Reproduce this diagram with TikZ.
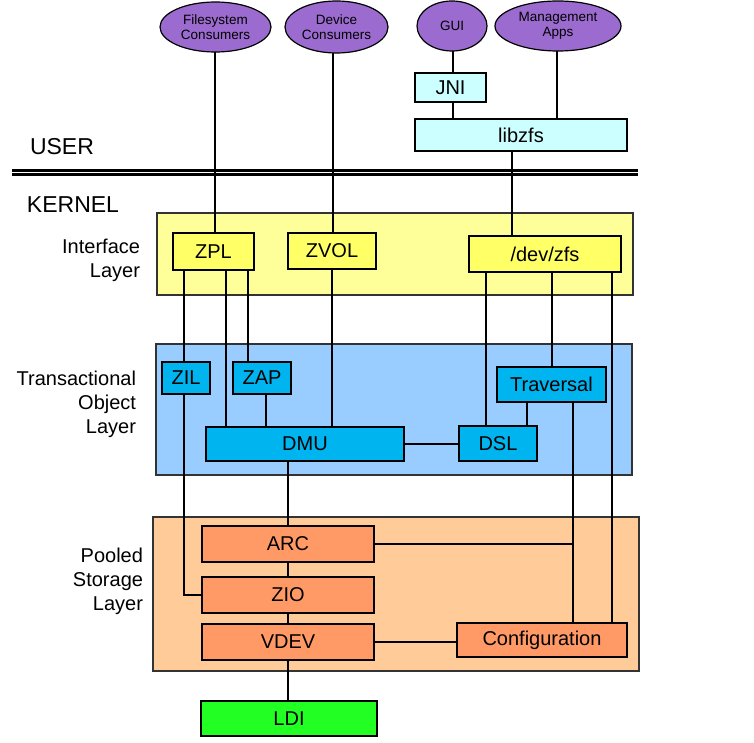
\documentclass[tikz,border=0pt]{standalone}
\usepackage{fontspec}
\setmainfont{Liberation Sans}
\usetikzlibrary{shapes.geometric}
\definecolor{purp}{HTML}{9B6BCF}
\definecolor{lcyan}{HTML}{CCFFFF}
\definecolor{ylay}{HTML}{FFFF99}
\definecolor{ybox}{HTML}{FFFF66}
\definecolor{blay}{HTML}{99CCFF}
\definecolor{bbox}{HTML}{00B4F0}
\definecolor{olay}{HTML}{FFCC99}
\definecolor{obox}{HTML}{FF9966}
\definecolor{gbox}{HTML}{22FF22}
\begin{document}
\begin{tikzpicture}[x=1pt,y=-1pt,
  every node/.style={inner sep=0pt,outer sep=0pt},
  cons/.style={ellipse,draw=black,line width=1.2pt,fill=purp,align=center,font=\fontsize{13.5}{15}\selectfont},
  box/.style={rectangle,draw=black,line width=1.3pt,font=\fontsize{20}{24}\selectfont},
  ubox/.style={box,fill=lcyan},
  ibox/.style={box,fill=ybox},
  tbox/.style={box,fill=bbox},
  pbox/.style={box,fill=obox},
  layer/.style={rectangle,draw=black!80,line width=1.3pt},
  lbl/.style={align=right,font=\fontsize{20}{24}\selectfont},
  big/.style={font=\fontsize{23}{27}\selectfont},
  conn/.style={draw=black,line width=1.2pt}]
\useasboundingbox (0,0) rectangle (754,743);

% layers
\node[layer,fill=ylay,minimum width=476pt,minimum height=82pt] (ilay) at (395,254) {};
\node[layer,fill=blay,minimum width=476pt,minimum height=131pt] (tlay) at (394,409.5) {};
\node[layer,fill=olay,minimum width=486pt,minimum height=154pt] (play) at (396,594) {};

% consumers
\node[cons,minimum width=111pt,minimum height=50pt] (fs) at (215.5,27) {Filesystem\\Consumers};
\node[cons,minimum width=103pt,minimum height=52pt] (dev) at (336.5,27) {Device\\Consumers};
\node[cons,minimum width=70pt,minimum height=50pt] (gui) at (452,26) {GUI};
\node[cons,minimum width=126pt,minimum height=50pt] (mgmt) at (558,26) {Management\\Apps};

% user boxes
\node[ubox,minimum width=71pt,minimum height=29pt] (jni) at (450.5,87.5) {JNI};
\node[ubox,minimum width=212pt,minimum height=32pt] (libzfs) at (521,135) {libzfs};

% labels
\node[big,anchor=west] (user) at (30,147) {USER};
\node[big,anchor=west] (kernel) at (27,205) {KERNEL};
\node[lbl,anchor=east] (lint) at (140,260) {Interface\\Layer};
\node[lbl,anchor=east] (ltrans) at (136,404) {Transactional\\Object\\Layer};
\node[lbl,anchor=east] (lpool) at (143,581) {Pooled\\Storage\\Layer};

% interface
\node[ibox,minimum width=81pt,minimum height=37pt] (zpl) at (213.5,251.5) {ZPL};
\node[ibox,minimum width=88pt,minimum height=36pt] (zvol) at (332,251) {ZVOL};
\node[ibox,minimum width=152pt,minimum height=36pt] (devzfs) at (545,254) {/dev/zfs};

% transactional
\node[tbox,minimum width=48pt,minimum height=32pt] (zil) at (186,378) {ZIL};
\node[tbox,minimum width=58pt,minimum height=32pt] (zap) at (262,378) {ZAP};
\node[tbox,minimum width=109pt,minimum height=35pt] (trav) at (551.5,384.5) {Traversal};
\node[tbox,minimum width=198pt,minimum height=34pt] (dmu) at (305,444) {DMU};
\node[tbox,minimum width=78pt,minimum height=35pt] (dsl) at (498,443.5) {DSL};

% pooled
\node[pbox,minimum width=172pt,minimum height=36pt] (arc) at (288,544) {ARC};
\node[pbox,minimum width=172pt,minimum height=36pt] (zio) at (288,595) {ZIO};
\node[pbox,minimum width=172pt,minimum height=36pt] (vdev) at (288,642) {VDEV};
\node[pbox,minimum width=170pt,minimum height=34pt] (config) at (542,640) {Configuration};

\node[box,fill=gbox,minimum width=176pt,minimum height=35pt] (ldi) at (289,718.5) {LDI};

% connectors
\draw[conn] (215,0 |- fs.south) -- (215,0 |- zpl.north);
\draw[conn] (333,0 |- dev.south) -- (333,0 |- zvol.north);
\draw[conn] (453,0 |- gui.south) -- (453,0 |- jni.north);
\draw[conn] (453,0 |- jni.south) -- (453,0 |- libzfs.north);
\draw[conn] (557,0 |- mgmt.south) -- (557,0 |- libzfs.north);
\draw[conn] (512,0 |- libzfs.south) -- (512,0 |- devzfs.north);
\draw[conn] (184,0 |- zpl.south) -- (184,0 |- zil.north);
\draw[conn] (184,0 |- zil.south) -- (184,0 |- zio.west) -- (zio.west);
\draw[conn] (226,0 |- zpl.south) -- (226,0 |- dmu.north);
\draw[conn] (248,0 |- zpl.south) -- (248,0 |- zap.north);
\draw[conn] (266,0 |- zap.south) -- (266,0 |- dmu.north);
\draw[conn] (332,0 |- zvol.south) -- (332,0 |- dmu.north);
\draw[conn] (486,0 |- devzfs.south) -- (486,0 |- dsl.north);
\draw[conn] (552,0 |- devzfs.south) -- (552,0 |- trav.north);
\draw[conn] (612,0 |- devzfs.south) -- (612,0 |- config.north);
\draw[conn] (527,0 |- trav.south) -- (527,0 |- dsl.north);
\draw[conn] (573,0 |- trav.south) -- (573,0 |- config.north);
\draw[conn] (dmu.east) -- (dmu.east -| dsl.west);
\draw[conn] (arc.east) -- (573,0 |- arc.east);
\draw[conn] (288,0 |- dmu.south) -- (arc.north);
\draw[conn] (arc.south) -- (zio.north);
\draw[conn] (zio.south) -- (vdev.north);
\draw[conn] (vdev.south) -- (288,0 |- ldi.north);
\draw[conn] (vdev.east) -- (vdev.east -| config.west);

% user/kernel boundary
\coordinate (bl) at (12,170.5);
\coordinate (br) at (638,170.5);
\coordinate (bl2) at (12,174.5);
\coordinate (br2) at (638,174.5);
\draw[line width=2.5pt] (bl) -- (br);
\draw[line width=2.5pt] (bl2) -- (br2);
\end{tikzpicture}
\end{document}
